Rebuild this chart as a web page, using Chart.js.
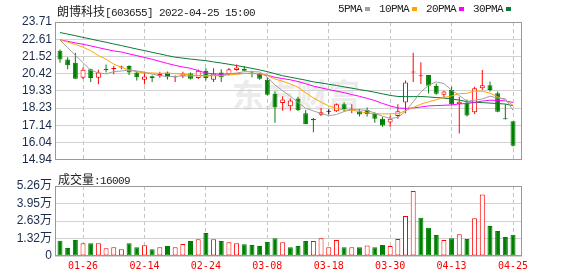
<!DOCTYPE html>
<html>
<head>
<meta charset="utf-8">
<title>朗博科技 日K</title>
<script src="https://cdn.jsdelivr.net/npm/chart.js@4.4.1/dist/chart.umd.min.js"></script>
<style>
  html, body { margin: 0; padding: 0; background: #fff; }
  #wrap { position: relative; width: 578px; height: 276px; overflow: hidden; }
  canvas { position: absolute; left: 0; }
  #priceChart { top: 0; }
  #volChart { top: 170px; }
  .txt { position: absolute; white-space: nowrap; color: #222; font: 11px "Liberation Mono", monospace; letter-spacing: -0.6px; line-height: 14px; }
  .cjk { font: 12px "Noto Sans CJK SC", sans-serif; letter-spacing: 0; }
  #title { left: 57px; top: 2px; }
  #legend { left: 338px; top: 2px; }
  #legend i { display: inline-block; width: 5px; height: 4px; margin: 0 9px 0 3px; vertical-align: 1px; }
  #volTitle { left: 58px; top: 170px; }
  #watermark { left: 232px; top: 70px; font: bold 32px "Noto Sans CJK SC", sans-serif; color: #ebebeb; letter-spacing: 0; }
</style>
</head>
<body>
<div id="wrap">
  <div id="watermark" class="txt">东方财富</div>
  <canvas id="priceChart" width="578" height="170"></canvas>
  <canvas id="volChart" width="578" height="106"></canvas>
  <div id="title" class="txt"><span class="cjk">朗博科技</span>[603655] 2022-04-25 15:00</div>
  <div id="legend" class="txt">5PMA<i style="background:#a0a0a0"></i>10PMA<i style="background:#ffa500"></i>20PMA<i style="background:#ff00ff"></i>30PMA<i style="background:#0b7a3a"></i></div>
  <div id="volTitle" class="txt"><span class="cjk">成交量</span>:16009</div>
</div>
<script>
// trading days shown (2022)
let dates = ["01-21", "01-24", "01-25", "01-26", "01-27", "01-28", "02-07", "02-08", "02-09", "02-10",
  "02-11", "02-14", "02-15", "02-16", "02-17", "02-18", "02-21", "02-22", "02-23", "02-24",
  "02-25", "02-28", "03-01", "03-02", "03-03", "03-04", "03-07", "03-08", "03-09", "03-10",
  "03-11", "03-14", "03-15", "03-16", "03-17", "03-18", "03-21", "03-22", "03-23", "03-24",
  "03-25", "03-28", "03-29", "03-30", "03-31", "04-01", "04-06", "04-07", "04-08", "04-11",
  "04-12", "04-13", "04-14", "04-15", "04-18", "04-19", "04-20", "04-21", "04-22", "04-25"];
let xTickLabels = ["01-26", "02-14", "02-24", "03-08", "03-18", "03-30", "04-13", "04-25"];
let priceTicks = ["23.71", "22.61", "21.52", "20.42", "19.33", "18.23", "17.14", "16.04", "14.94"];
let volTicks = [0, 1.32, 2.63, 3.95, 5.26];
let volTickLabels = ["0", "1.32万", "2.63万", "3.95万", "5.26万"];

let openP = [21.88, 21.32, 21.11, 20.16, 20.71, 20.16, 20.72, 20.71, 20.81, 20.91,
  20.50, 20.04, 20.26, 20.26, 20.50, 20.18, 20.26, 20.44, 20.14, 20.60,
  20.04, 20.50, 20.40, 20.65, 20.74, 20.50, 20.40, 20.04, 19.14, 18.56,
  18.35, 18.84, 17.91, 17.56, 17.80, 18.00, 18.03, 18.47, 18.11, 18.03,
  18.11, 17.86, 17.56, 17.32, 17.72, 18.58, 20.50, 20.26, 20.34, 19.63,
  19.08, 19.39, 18.47, 18.58, 17.97, 19.49, 19.69, 19.18, 17.56, 17.39];
let closeP = [21.32, 20.95, 20.10, 20.67, 20.14, 20.50, 20.66, 20.79, 20.85, 20.50,
  20.20, 20.24, 20.14, 20.40, 20.20, 20.22, 20.44, 20.10, 20.60, 20.14,
  20.44, 20.20, 20.71, 20.81, 20.60, 20.44, 20.10, 19.08, 18.27, 18.78,
  18.72, 18.10, 17.21, 17.46, 17.97, 18.00, 18.47, 18.15, 18.17, 17.82,
  17.86, 17.56, 17.12, 17.56, 18.03, 19.86, 20.56, 20.30, 19.65, 19.14,
  19.28, 18.47, 18.64, 17.76, 19.49, 19.69, 19.39, 18.00, 17.52, 15.84];
let highP = [21.96, 21.47, 21.76, 20.81, 20.74, 20.67, 21.01, 20.91, 20.93, 20.95,
  20.59, 20.50, 20.30, 20.54, 20.56, 20.30, 20.54, 20.50, 20.68, 20.77,
  20.77, 20.71, 20.79, 21.01, 20.91, 20.60, 20.46, 20.20, 19.28, 18.98,
  18.84, 18.96, 18.11, 17.60, 18.23, 18.16, 18.53, 18.58, 18.47, 18.17,
  18.27, 17.97, 17.66, 17.76, 18.47, 19.99, 21.76, 21.15, 20.34, 19.79,
  19.34, 19.59, 18.96, 18.78, 19.59, 20.66, 19.93, 19.28, 18.47, 17.39];
let lowP = [21.11, 20.71, 20.08, 20.06, 19.89, 19.75, 20.50, 20.38, 20.71, 20.34,
  19.99, 19.75, 19.89, 20.16, 20.05, 19.89, 20.14, 20.05, 20.08, 19.99,
  19.89, 19.89, 20.30, 20.60, 20.59, 20.20, 20.04, 19.04, 17.30, 18.06,
  18.06, 18.05, 17.21, 16.69, 17.72, 17.84, 17.99, 18.00, 17.91, 17.70,
  17.70, 17.30, 17.05, 17.05, 17.56, 17.91, 19.89, 19.77, 19.16, 19.08,
  18.88, 18.41, 16.61, 17.70, 17.86, 19.39, 19.28, 17.97, 17.50, 15.79];
// 成交量, 万手
let volume = [1.15, 0.60, 1.20, 0.95, 0.95, 0.95, 0.58, 0.65, 0.50, 0.95,
  0.65, 0.80, 0.50, 0.65, 0.75, 0.65, 0.90, 1.13, 1.25, 1.72,
  1.25, 1.13, 1.03, 0.95, 0.88, 0.82, 0.75, 1.05, 1.33, 1.03,
  0.65, 0.75, 1.13, 1.13, 1.33, 0.65, 1.20, 0.65, 0.65, 0.65,
  0.78, 0.65, 0.82, 0.75, 1.28, 3.00, 4.88, 2.88, 2.13, 1.58,
  1.20, 1.33, 1.63, 1.28, 2.83, 4.63, 2.25, 1.88, 1.43, 1.60];

let ma5 = [22.57, 22.08, 21.60, 21.12, 20.64, 20.47, 20.41, 20.55, 20.59, 20.66,
  20.60, 20.52, 20.39, 20.30, 20.24, 20.24, 20.28, 20.27, 20.31, 20.30,
  20.34, 20.30, 20.42, 20.46, 20.55, 20.55, 20.53, 20.21, 19.70, 19.33,
  18.99, 18.59, 18.22, 18.05, 17.89, 17.75, 17.82, 18.01, 18.15, 18.12,
  18.09, 17.91, 17.71, 17.58, 17.63, 18.03, 18.63, 19.26, 19.68, 19.90,
  19.79, 19.37, 19.04, 18.66, 18.73, 18.81, 18.99, 18.87, 18.82, 18.09];
let ma10 = [22.57, 22.43, 22.28, 22.11, 21.88, 21.58, 21.34, 21.03, 20.82, 20.65,
  20.54, 20.47, 20.47, 20.44, 20.45, 20.42, 20.40, 20.33, 20.30, 20.27,
  20.29, 20.29, 20.35, 20.39, 20.43, 20.45, 20.41, 20.31, 20.08, 19.94,
  19.77, 19.56, 19.21, 18.88, 18.61, 18.37, 18.21, 18.11, 18.10, 18.01,
  17.92, 17.87, 17.86, 17.87, 17.87, 18.06, 18.27, 18.48, 18.63, 18.76,
  18.91, 19.00, 19.15, 19.17, 19.32, 19.30, 19.18, 18.95, 18.74, 18.41];
let ma20 = [22.57, 22.48, 22.38, 22.29, 22.19, 22.08, 21.97, 21.87, 21.80, 21.68,
  21.57, 21.45, 21.34, 21.20, 21.07, 20.95, 20.85, 20.76, 20.62, 20.46,
  20.41, 20.38, 20.41, 20.41, 20.44, 20.43, 20.41, 20.32, 20.19, 20.11,
  20.03, 19.92, 19.78, 19.63, 19.52, 19.41, 19.31, 19.21, 19.09, 18.98,
  18.85, 18.71, 18.53, 18.37, 18.24, 18.21, 18.24, 18.30, 18.37, 18.39,
  18.41, 18.43, 18.50, 18.52, 18.59, 18.68, 18.73, 18.72, 18.69, 18.59];
let ma30 = [23.04, 22.94, 22.84, 22.73, 22.63, 22.52, 22.42, 22.31, 22.21, 22.10,
  21.99, 21.89, 21.78, 21.68, 21.57, 21.47, 21.41, 21.35, 21.30, 21.25,
  21.17, 21.10, 21.02, 20.94, 20.85, 20.76, 20.66, 20.55, 20.42, 20.29,
  20.20, 20.10, 20.01, 19.90, 19.83, 19.75, 19.67, 19.58, 19.50, 19.41,
  19.33, 19.24, 19.14, 19.04, 18.97, 18.96, 18.96, 18.97, 18.94, 18.90,
  18.87, 18.81, 18.74, 18.64, 18.60, 18.58, 18.55, 18.52, 18.49, 18.39];

const RED = "#ff0000";
const GREEN = "#008000";

function candleColor(i) {
  if (closeP[i] > openP[i]) return RED;
  if (closeP[i] < openP[i]) return GREEN;
  return "#000000";
}

// volume bar colour follows close against previous close
function volUp(i) {
  if (i === 0) return closeP[i] >= openP[i];
  return closeP[i] >= closeP[i - 1];
}

function xy(arr) {
  return arr.map((v, i) => ({ x: i, y: v }));
}

function xScale(showLabels) {
  return {
    type: "linear",
    min: -0.65,
    max: 60.17,
    offset: false,
    afterBuildTicks: (scale) => {
      scale.ticks = xTickLabels.map((d) => ({ value: dates.indexOf(d) }));
    },
    ticks: {
      display: showLabels,
      autoSkip: false,
      maxRotation: 0,
      padding: 4,
      color: "#ff0000",
      font: { family: "DejaVu Sans Mono", size: 10 },
      callback: (v, i) => xTickLabels[i],
    },
    grid: { color: "#c4c4c4", drawTicks: false, offset: false },
    border: { display: false, dash: [4, 3] },
    afterFit: (scale) => {
      scale.height = showLabels ? 20 : 0;
    },
  };
}

const framePlugin = {
  id: "frame",
  afterDraw(chart) {
    const { ctx, chartArea: a } = chart;
    ctx.save();
    ctx.strokeStyle = "#999999";
    ctx.lineWidth = 1;
    ctx.strokeRect(Math.round(a.left) + 0.5, Math.round(a.top) + 0.5,
      Math.round(a.width) - 1, Math.round(a.height) - 1);
    ctx.restore();
  },
};

function maLine(data, color) {
  return {
    type: "line",
    data: xy(data),
    borderColor: color,
    borderWidth: 1,
    pointRadius: 0,
    tension: 0,
    order: 1,
  };
}

function renderPriceChart() {
  let bodies = closeP.map((c, i) => ({ x: i, y: [openP[i], c] }));
  let wicks = closeP.map((c, i) => ({ x: i, y: [lowP[i], highP[i]] }));

  new Chart(document.getElementById("priceChart"), {
    type: "bar",
    data: {
      datasets: [
        {
          data: wicks,
          grouped: false,
          barThickness: 1,
          borderWidth: 0,
          inflateAmount: 0,
          backgroundColor: (c) => candleColor(c.dataIndex),
          order: 3,
        },
        {
          data: bodies,
          grouped: false,
          barThickness: 5,
          minBarLength: 1,
          borderWidth: 1,
          borderSkipped: false,
          inflateAmount: 0,
          borderColor: (c) => candleColor(c.dataIndex),
          backgroundColor: (c) =>
            closeP[c.dataIndex] > openP[c.dataIndex] ? "#ffffff" : candleColor(c.dataIndex),
          order: 2,
        },
        maLine(ma5, "#a0a0a0"),
        maLine(ma10, "#ffa500"),
        maLine(ma20, "#ff00ff"),
        maLine(ma30, "#0b7a3a"),
      ],
    },
    options: {
      responsive: false,
      animation: false,
      events: [],
      layout: { padding: { top: 22, right: 56, bottom: 4, left: 0 } },
      plugins: { legend: { display: false }, tooltip: { enabled: false } },
      scales: {
        x: xScale(false),
        y: {
          min: 14.94,
          max: 23.71,
          beginAtZero: false,
          afterBuildTicks: (scale) => {
            scale.ticks = priceTicks.map((t) => ({ value: parseFloat(t) })).reverse();
          },
          ticks: {
            color: "#1b2b4b",
            font: { family: "Liberation Sans", size: 12 },
            padding: 3,
            callback: (v) => v.toFixed(2),
          },
          grid: { color: "#d2d2d2", drawTicks: false },
          border: { display: false },
          afterFit: (scale) => {
            scale.width = 55;
          },
        },
      },
    },
    plugins: [framePlugin],
  });
}

function renderVolumeChart() {
  new Chart(document.getElementById("volChart"), {
    type: "bar",
    data: {
      datasets: [
        {
          data: xy(volume),
          grouped: false,
          barThickness: 5,
          borderWidth: 1,
          borderSkipped: false,
          inflateAmount: 0,
          borderColor: (c) => (volUp(c.dataIndex) ? RED : GREEN),
          backgroundColor: (c) => (volUp(c.dataIndex) ? "#ffffff" : GREEN),
        },
      ],
    },
    options: {
      responsive: false,
      animation: false,
      events: [],
      layout: { padding: { top: 16, right: 56, bottom: 0, left: 0 } },
      plugins: { legend: { display: false }, tooltip: { enabled: false } },
      scales: {
        x: xScale(true),
        y: {
          min: 0,
          max: 5.26,
          afterBuildTicks: (scale) => {
            scale.ticks = volTicks.map((v) => ({ value: v }));
          },
          ticks: {
            color: "#1b2b4b",
            font: { family: "Liberation Sans, Noto Sans CJK SC", size: 12 },
            padding: 3,
            callback: (v, i) => volTickLabels[i],
          },
          grid: { color: "#d2d2d2", drawTicks: false },
          border: { display: false },
          afterFit: (scale) => {
            scale.width = 55;
          },
        },
      },
    },
    plugins: [framePlugin],
  });
}

renderPriceChart();
renderVolumeChart();
</script>
</body>
</html>
